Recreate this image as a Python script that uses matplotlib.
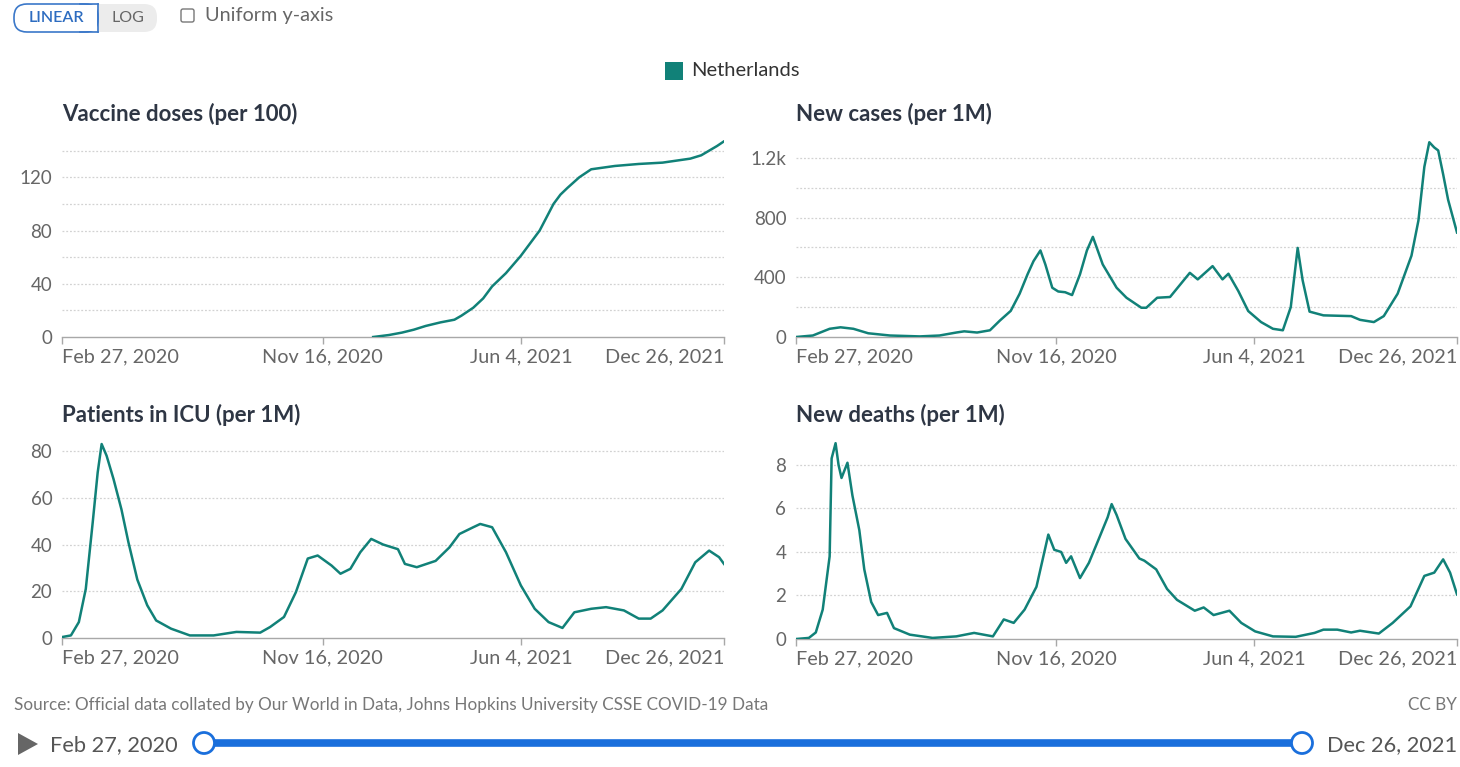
import numpy as np
import pandas as pd
import matplotlib
matplotlib.use("Agg")
import matplotlib.pyplot as plt
from matplotlib.patches import FancyBboxPatch, Rectangle, Circle, Polygon

plt.rcParams['font.family'] = ['Lato', 'DejaVu Sans']

START = pd.Timestamp("2020-02-27")
END = pd.Timestamp("2021-12-26")

# x values are days since Feb 27, 2020
vax_days = [314, 330, 343, 355, 367, 382, 396, 403, 415, 425, 434, 448, 463, 472, 482, 489, 496,
            503, 510, 522, 534, 558, 582, 606, 634, 645, 653, 661, 668]
vax_vals = [0, 1.5, 3.3, 5.5, 8.3, 11, 13, 16, 22, 29, 38, 48, 61, 70, 80, 90, 100,
            107, 112, 120, 126, 128.5, 130, 131, 134, 136.5, 140, 143.5, 147]

cases_days = [0, 17, 34, 45, 58, 73, 95, 125, 145, 162, 170, 183, 196, 206, 217, 226, 234,
              240, 247, 252, 259, 265, 272, 279, 287, 294, 300, 310, 324, 334, 349, 354, 365,
              378, 398, 406, 421, 431, 437, 447, 457, 470, 482, 492, 500, 507, 512, 519, 533,
              561, 570, 584, 594, 608, 622, 629, 635, 640, 645, 649, 654, 659, 668]
cases_vals = [0, 10, 55, 65, 55, 25, 10, 4, 10, 30, 38, 30, 45, 110, 175, 290, 420,
              508, 580, 486, 330, 305, 300, 281, 420, 580, 671, 486, 330, 263, 196, 196, 263,
              268, 430, 386, 475, 386, 424, 308, 174, 100, 55, 45, 200, 597, 380, 170, 145,
              140, 115, 100, 140, 290, 545, 780, 1140, 1305, 1270, 1250, 1090, 920, 700]

icu_days = [0, 9, 17, 24, 31, 36, 40, 45, 52, 60, 67, 76, 86, 95, 110, 129, 153, 176, 200,
            210, 224, 236, 248, 258, 272, 281, 291, 301, 312, 324, 339, 346, 358, 377, 391,
            401, 415, 422, 434, 448, 463, 477, 491, 505, 517, 534, 549, 567, 582, 594, 606,
            625, 639, 653, 663, 668]
icu_vals = [0.4, 1.1, 6.8, 21, 49.5, 70.8, 83, 78, 68, 55, 41, 25, 14, 7.5, 4, 1.1, 1.1, 2.6, 2.3,
            4.7, 9, 19.6, 34, 35.3, 31, 27.5, 29.6, 36.7, 42.4, 40, 38, 31.7, 30.3, 33, 38.8,
            44.5, 47.4, 48.8, 47.4, 36.7, 22.5, 12.5, 6.8, 4.3, 11, 12.5, 13.2, 11.8, 8.3, 8.3, 11.8,
            21, 32.4, 37.4, 34.6, 31.7]

deaths_days = [0, 13, 20, 27, 34, 36, 40, 43, 46, 52, 57, 64, 69, 76, 83, 92, 99, 115, 138,
               162, 180, 199, 210, 220, 231, 243, 255, 261, 268, 273, 278, 287, 296, 306, 315,
               319, 324, 333, 347, 352, 364, 375, 385, 403, 412, 422, 438, 450, 464, 482, 505,
               524, 533, 547, 561, 570, 589, 603, 621, 635, 645, 654, 661, 668]
deaths_vals = [0, 0.05, 0.3, 1.35, 3.8, 8.3, 9.0, 8.0, 7.4, 8.1, 6.6, 5.0, 3.2, 1.7, 1.1, 1.2, 0.5, 0.2, 0.05,
               0.12, 0.28, 0.12, 0.9, 0.74, 1.35, 2.4, 4.8, 4.1, 4.0, 3.5, 3.8, 2.8, 3.5, 4.6, 5.6,
               6.2, 5.7, 4.6, 3.7, 3.6, 3.2, 2.3, 1.8, 1.3, 1.45, 1.1, 1.3, 0.74, 0.35, 0.12, 0.1,
               0.28, 0.43, 0.43, 0.3, 0.38, 0.25, 0.74, 1.5, 2.9, 3.05, 3.66, 3.05, 2.05]

tick_dates = ["2020-02-27", "2020-11-16", "2021-06-04", "2021-12-26"]
tick_labels = ["Feb 27, 2020", "Nov 16, 2020", "Jun 4, 2021", "Dec 26, 2021"]

panels = [
    dict(title="Vaccine doses (per 100)", days=vax_days, vals=vax_vals,
         yticks=[0, 40, 80, 120], ylabels=["0", "40", "80", "120"],
         grid=[20, 40, 60, 80, 100, 120, 140], ymax=148, pos=(62, 140, 724, 337)),
    dict(title="New cases (per 1M)", days=cases_days, vals=cases_vals,
         yticks=[0, 400, 800, 1200], ylabels=["0", "400", "800", "1.2k"],
         grid=[200, 400, 600, 800, 1000, 1200], ymax=1320, pos=(796, 140, 1457, 337)),
    dict(title="Patients in ICU (per 1M)", days=icu_days, vals=icu_vals,
         yticks=[0, 20, 40, 60, 80], ylabels=["0", "20", "40", "60", "80"],
         grid=[20, 40, 60, 80], ymax=84.3, pos=(62, 441, 724, 638)),
    dict(title="New deaths (per 1M)", days=deaths_days, vals=deaths_vals,
         yticks=[0, 2, 4, 6, 8], ylabels=["0", "2", "4", "6", "8"],
         grid=[2, 4, 6, 8], ymax=9.1, pos=(796, 441, 1457, 639)),
]

LINE = "#118178"
W, H = 1460, 767
fig = plt.figure(figsize=(W / 100, H / 100), dpi=100)

# overlay for the page furniture (pixel coordinates)
bg = fig.add_axes([0, 0, 1, 1])
bg.set_xlim(0, W)
bg.set_ylim(H, 0)
bg.axis("off")

# LINEAR / LOG toggle
bg.add_patch(FancyBboxPatch((14, 4), 143, 28, boxstyle="round,pad=0,rounding_size=13",
                            fc="#ececec", ec="none"))
bg.add_patch(FancyBboxPatch((14, 4), 84, 28, boxstyle="round,pad=0,rounding_size=13",
                            fc="white", ec="#3b78c9", lw=1.2))
bg.add_patch(Rectangle((80, 4.6), 17.4, 26.8, fc="white", ec="none"))
bg.plot([98, 98], [4, 32], color="#3b78c9", lw=1.2)
bg.plot([80, 98], [4, 4], color="#3b78c9", lw=1.2)
bg.plot([80, 98], [32, 32], color="#3b78c9", lw=1.2)
bg.text(56, 18, "LINEAR", color="#2d6cc0", fontsize=11.5, fontweight="semibold",
        ha="center", va="center")
bg.text(128, 18, "LOG", color="#666666", fontsize=11.5, ha="center", va="center")
bg.add_patch(FancyBboxPatch((181, 9), 13, 13, boxstyle="round,pad=0,rounding_size=2",
                            fc="white", ec="#777777", lw=1))
bg.text(205, 16, "Uniform y-axis", color="#666666", fontsize=14.3, va="center")

# legend
bg.add_patch(Rectangle((665, 62), 18, 18, fc=LINE, ec="none"))
bg.text(691, 71, "Netherlands", color="#333333", fontsize=14.5, va="center")

# footer
bg.text(14, 705, "Source: Official data collated by Our World in Data, Johns Hopkins University CSSE COVID-19 Data",
        color="#777777", fontsize=12.3, va="center")
bg.text(1457, 705, "CC BY", color="#777777", fontsize=12.3, va="center", ha="right")
bg.add_patch(Polygon([[18, 733], [18, 755], [38, 744]], closed=True, fc="#666666", ec="none"))
bg.text(50, 745, tick_labels[0], color="#555555", fontsize=15.7, va="center")
bg.text(1457, 745, tick_labels[-1], color="#555555", fontsize=15.7, va="center", ha="right")
bg.plot([204, 1302], [743, 743], color="#1a6fdc", lw=5.5, solid_capstyle="butt")
for cx in (204, 1302):
    bg.add_patch(Circle((cx, 743), 10.5, fc="white", ec="#1a6fdc", lw=2, zorder=5))

for p in panels:
    x0, y0, x1, y1 = p["pos"]
    ax = fig.add_axes([x0 / W, 1 - y1 / H, (x1 - x0) / W, (y1 - y0) / H])
    ax.patch.set_alpha(0)
    dates = START + pd.to_timedelta(p["days"], unit="D")
    for g in p["grid"]:
        ax.axhline(g, color="#d2d2d2", lw=0.9, ls=(0, (1.5, 1.5)), zorder=1)
    ax.plot(dates, p["vals"], color=LINE, lw=1.8, zorder=3, solid_joinstyle="round")
    ax.set_xlim(START, END)
    ax.set_ylim(0, p["ymax"])
    ax.set_yticks(p["yticks"])
    ax.set_yticklabels(p["ylabels"])
    ax.set_xticks(pd.to_datetime(tick_dates))
    ax.set_xticklabels(tick_labels)
    labs = ax.get_xticklabels()
    labs[0].set_ha("left")
    labs[-1].set_ha("right")
    for s in ("top", "right", "left"):
        ax.spines[s].set_visible(False)
    ax.spines["bottom"].set_color("#a8a8a8")
    ax.spines["bottom"].set_linewidth(1)
    ax.tick_params(axis="y", length=0, pad=7, labelsize=13.5, labelcolor="#666666")
    ax.tick_params(axis="x", length=5, width=1, color="#a8a8a8", pad=3,
                   labelsize=14.3, labelcolor="#666666")
    fig.text(x0 / W, 1 - (y0 - 26) / H, p["title"], fontsize=16, fontweight="bold",
             color="#2e3644", va="center", ha="left")

fig.savefig("out.png", dpi=100)
